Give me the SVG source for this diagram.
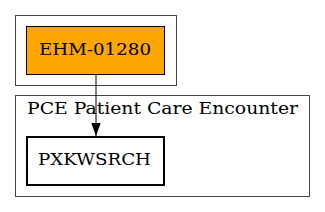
<svg xmlns="http://www.w3.org/2000/svg" width="325" height="212" viewBox="0 0 325 212">
<defs>
<style>
.cluster{fill:#ffffff;stroke:#444444;stroke-width:1}
text{font-family:"DejaVu Serif","Liberation Serif",serif;font-size:17px;fill:#000000;text-anchor:middle}
.edge{stroke:#000000;stroke-width:1;fill:none}
</style>
<marker id="arrow" markerWidth="13" markerHeight="10" refX="13" refY="5" orient="auto" markerUnits="userSpaceOnUse" viewBox="0 0 13 10">
<path d="M0,0.3 L13,5 L0,9.7 Z" fill="#000000"/>
</marker>
</defs>
<rect width="325" height="212" fill="#ffffff"/>
<g id="cluster_top">
<rect class="cluster" x="15.5" y="15.5" width="161" height="70"/>
</g>
<g id="cluster_pce">
<rect class="cluster" x="15.5" y="95.5" width="294" height="101"/>
<text x="162.5" y="113.5" textLength="271" lengthAdjust="spacingAndGlyphs">PCE Patient Care Encounter</text>
</g>
<g id="node_ehm">
<rect x="26.5" y="26.5" width="138" height="48" fill="#ffa500" stroke="#000000" stroke-width="1"/>
<text x="95" y="54.5" textLength="112" lengthAdjust="spacingAndGlyphs">EHM-01280</text>
</g>
<g id="node_pxk">
<rect x="27" y="137" width="137" height="48" fill="#ffffff" stroke="#000000" stroke-width="2"/>
<text x="94.5" y="164.5" textLength="113" lengthAdjust="spacingAndGlyphs">PXKWSRCH</text>
</g>
<g id="connectors">
<line class="edge" x1="96" y1="75" x2="96" y2="136" marker-end="url(#arrow)"/>
</g>
</svg>
